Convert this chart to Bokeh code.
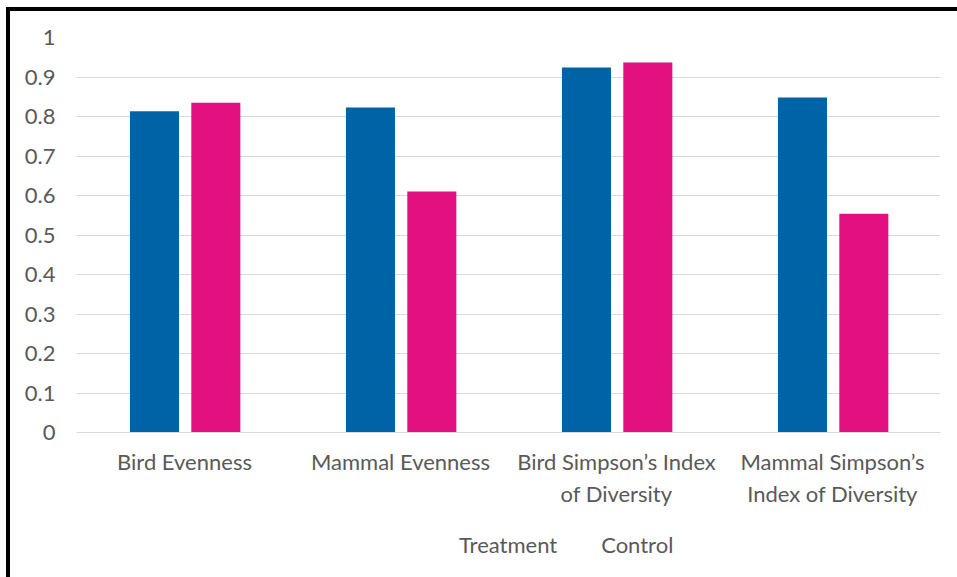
from bokeh.plotting import figure
from bokeh.models import (ColumnDataSource, FactorRange, Range1d, FixedTicker,
                          NumeralTickFormatter, Legend, LegendItem)
from bokeh.transform import dodge
from bokeh.layouts import column
from bokeh.embed import file_html
from bokeh.resources import INLINE

# Category labels (long ones wrap onto a second line)
categories = ["Bird Evenness", "Mammal Evenness",
              "Bird Simpson\u2019s Index\nof Diversity",
              "Mammal Simpson\u2019s\nIndex of Diversity"]

# Diversity metrics per group
treatment = [0.813, 0.823, 0.924, 0.848]
control = [0.835, 0.610, 0.937, 0.554]

series_names = ["Treatment", "Control"]

y_ticks = [0, 0.1, 0.2, 0.3, 0.4, 0.5, 0.6, 0.7, 0.8, 0.9, 1]

BLUE = "#0063A6"
PINK = "#E31082"
GRID = "#D9D9D9"
TEXT = "#595959"
FONT = "Lato"
FSIZE = "22px"

source = ColumnDataSource(dict(cat=categories, treatment=treatment, control=control))

# Main chart
p = figure(x_range=FactorRange(*categories), y_range=Range1d(0, 1),
           frame_width=864, frame_height=395,
           output_backend="svg", toolbar_location=None,
           min_border_left=66, min_border_right=17, min_border_top=26,
           min_border_bottom=90)
p.outline_line_color = None
p.background_fill_color = "white"
p.border_fill_color = "white"

bw = 0.227
p.vbar(x=dodge("cat", -0.139, range=p.x_range), top="treatment", width=bw,
       source=source, color=BLUE, line_color=None)
p.vbar(x=dodge("cat", 0.145, range=p.x_range), top="control", width=bw,
       source=source, color=PINK, line_color=None)

# Y axis
p.yaxis.ticker = FixedTicker(ticks=y_ticks)
p.yaxis.formatter = NumeralTickFormatter(format="0.[0]")
p.yaxis.axis_line_color = None
p.yaxis.major_tick_line_color = None
p.yaxis.minor_tick_line_color = None
p.yaxis.major_tick_out = 0
p.yaxis.major_label_standoff = 21
p.yaxis.major_label_text_font = FONT
p.yaxis.major_label_text_font_size = FSIZE
p.yaxis.major_label_text_color = TEXT

p.ygrid.ticker = FixedTicker(ticks=y_ticks)
p.ygrid.grid_line_color = GRID
p.ygrid.grid_line_width = 1
p.xgrid.grid_line_color = None

# X axis with category labels
xa = p.xaxis[0]
xa.axis_line_color = GRID
xa.major_tick_line_color = None
xa.major_tick_out = 0
xa.major_label_standoff = 15
xa.major_label_text_font = FONT
xa.major_label_text_font_size = FSIZE
xa.major_label_text_color = TEXT

# Legend strip underneath the chart
lg = figure(width=947, height=55, output_backend="svg", toolbar_location=None,
            x_axis_location=None, y_axis_location=None,
            min_border_left=0, min_border_right=0, min_border_top=0,
            min_border_bottom=0)
lg.outline_line_color = None
lg.grid.grid_line_color = None
lg.background_fill_color = "white"
lg.border_fill_color = "white"

sw_t = lg.vbar(x=[], top=[], width=0.5, color=BLUE, line_color=None)
sw_c = lg.vbar(x=[], top=[], width=0.5, color=PINK, line_color=None)

legend = Legend(items=[LegendItem(label=series_names[0], renderers=[sw_t]),
                       LegendItem(label=series_names[1], renderers=[sw_c])],
                orientation="horizontal", location=(364, 19),
                glyph_width=13, glyph_height=13, label_standoff=6, spacing=25,
                padding=0, margin=0, border_line_color=None,
                background_fill_alpha=0,
                label_text_font=FONT, label_text_font_size=FSIZE,
                label_text_color=TEXT)
lg.add_layout(legend, "center")

layout = column(p, lg, spacing=0, margin=(7, 0, 0, 6),
                styles={"border-left": "4px solid black", "border-top": "4px solid black"})

open("out.html", "w").write(file_html(layout, INLINE))
